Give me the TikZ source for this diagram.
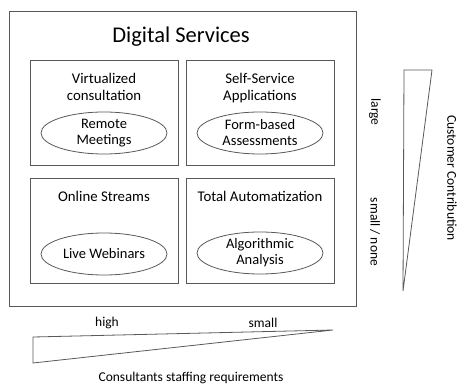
\documentclass[tikz,border=0pt]{standalone}
\usepackage{fontspec}
\setmainfont{Carlito}
\usepackage{tikz}
\usetikzlibrary{shapes.geometric}

\begin{document}
\begin{tikzpicture}[x=1pt,y=-1pt,
  bordo/.style={draw=black!65,line width=0.8pt},
  titolo/.style={font=\fontsize{14.8}{17}\selectfont,align=center,anchor=north,inner sep=0pt},
  ovale/.style={bordo,ellipse,minimum width=126pt,minimum height=42pt,inner sep=0pt,
    font=\fontsize{14.5}{16}\selectfont,align=center},
  etichetta/.style={font=\fontsize{13.5}{16}\selectfont,inner sep=0pt}]

\useasboundingbox (0,0) rectangle (457,385);

\def\riquadro(#1,#2,#3,#4,#5,#6){ % (x, y) dell'angolo, nome, titolo, testo dell'ovale, y dell'ovale
\begin{scope}[shift={(#1,#2)}] %shifta lo zero in (#1,#2)
%Traccia il riquadro
\draw[bordo] (0,0) rectangle (148,105);
%Titolo in alto e ovale sotto
\node[titolo] (#3-t) at (74,13) {#4};
\node[ovale] (#3-e) at (74,#6) {#5};
\end{scope}}

%Riquadro esterno
\draw[bordo] (9,11) rectangle (356,306);
\node[font=\fontsize{22.5}{26}\selectfont,inner sep=0pt] (digitale) at (181,37) {Digital Services};

%Disegna i quattro riquadri
\riquadro(30,60,virt,{Virtualized\\consultation},{Remote\\Meetings},73)
\riquadro(186,60,self,{Self-Service\\Applications},{Form-based\\Assessments},73)
\riquadro(30,178,online,{Online Streams},{Live Webinars},76)
\riquadro(186,178,auto,{Total Automatization},{Algorithmic\\Analysis},75)

%Cuneo in basso
\draw[bordo] (33,337) -- (333,330) -- (33,363) -- cycle;
\node[etichetta] (alto) at (107,323) {high};
\node[etichetta] (basso) at (263,323) {small};
\node[etichetta] (personale) at (191,378) {Consultants staffing requirements};

%Cuneo a destra
\draw[bordo] (404,70) -- (432,70) -- (403,291) -- cycle;
\node[etichetta,rotate=-90] (grande) at (375,112) {large};
\node[etichetta,rotate=-90] (nullo) at (375,232) {small / none};
\node[etichetta,rotate=-90] (cliente) at (452,178) {Customer Contribution};

\end{tikzpicture}
\end{document}
